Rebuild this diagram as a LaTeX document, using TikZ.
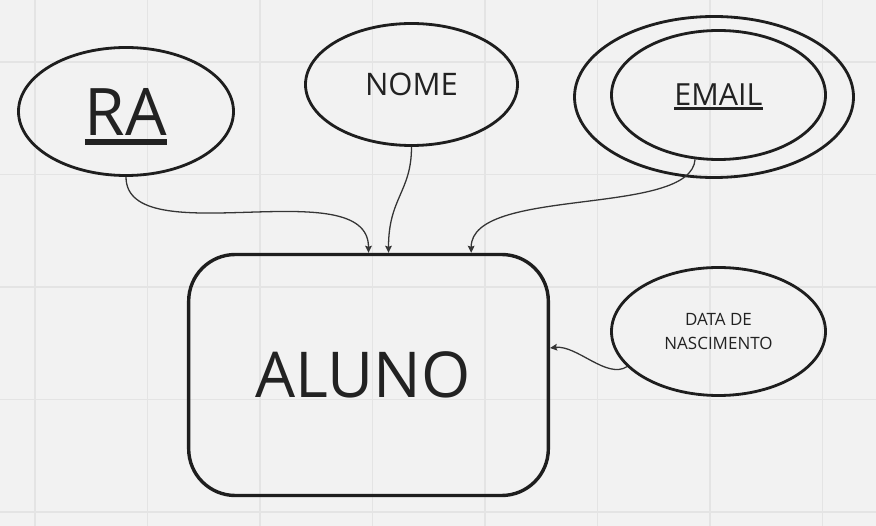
\documentclass[tikz,border=0pt]{standalone}
\usepackage{fontspec}
\setmainfont{Open Sans}
\usepackage{xcolor}
\definecolor{cBg}{HTML}{F2F2F2}
\definecolor{cGrid}{HTML}{E4E4E4}
\definecolor{cLine}{HTML}{1E1E1E}
\definecolor{cLink}{HTML}{353535}
\definecolor{cText}{HTML}{222222}
\usepackage{tikz}
\usetikzlibrary{arrows.meta,shapes.geometric}
% sublinhado de chave: texto, afastamento, espessura
\newcommand{\keyul}[3]{\vtop{\hbox{#1}\kern#2\hrule height#3}}
\tikzset{
  attr-ellipse/.style={draw=cLine,line width=2.4pt,ellipse,inner sep=0pt,
    text=cText,align=center},
  entity-box/.style={draw=cLine,line width=2.9pt,rounded corners=14mm,
    inner sep=0pt,text=cText},
  link/.style={-{Stealth[length=2.1mm,width=2mm,inset=0.3mm]},line width=1.1pt,draw=cLink},
  grid-line/.style={draw=cGrid,line width=1.6pt},
}

\begin{document}
\begin{tikzpicture}[x=0.3mm,y=-0.3mm]
  \useasboundingbox (0,0) rectangle (876,526);
  \fill[cBg] (0,0) rectangle (876,526);
  % grade do quadro
  \foreach \gx in {0,...,7}
    \draw[grid-line] ({35+112.5*\gx},0) -- ++(0,526);
  \foreach \gy in {0,...,4}
    \draw[grid-line] (0,{62+112.5*\gy}) -- ++(876,0);

  \node[entity-box,minimum width=107.9mm,minimum height=72.3mm,
    font=\fontsize{54}{60}\selectfont] (aluno) at (368.5,375) {ALUNO\kern10pt};
  \node[attr-ellipse,minimum width=64.5mm,minimum height=38.4mm,text depth=0pt,
    font=\fontsize{56}{60}\selectfont] (ra) at (126,111.5) {\keyul{RA}{3.4pt}{5pt}};
  \node[attr-ellipse,minimum width=63.6mm,minimum height=36.6mm,
    font=\fontsize{26.5}{30}\selectfont] (nome) at (411.5,84.5) {NOME};
  \node[attr-ellipse,minimum width=83.7mm,minimum height=48.3mm] (email) at (714,97) {};
  \node[attr-ellipse,minimum width=64.2mm,minimum height=38.7mm,text depth=0pt,
    font=\fontsize{26}{30}\selectfont] (email-in) at (718.5,95) {\keyul{EMAIL}{1.2pt}{2.6pt}};
  \node[attr-ellipse,minimum width=64.2mm,minimum height=38.4mm,
    font=\fontsize{14.5}{20.4}\selectfont] (data) at (718.5,331.5) {DATA DE\\NASCIMENTO};

  \draw[link] (ra.south) .. controls +(0,78) and +(0,-83) .. (aluno.north);
  \draw[link] (nome.south) .. controls +(0,45) and +(0,-55) .. ([xshift=6mm]aluno.north);
  \draw[link] (email-in.250) .. controls +(-4,58) and +(0,-67) .. ([xshift=30.8mm]aluno.north);
  \draw[link] (data.201) .. controls +(-20,13) and +(27,-3) .. ([yshift=8.1mm]aluno.east);
\end{tikzpicture}
\end{document}
